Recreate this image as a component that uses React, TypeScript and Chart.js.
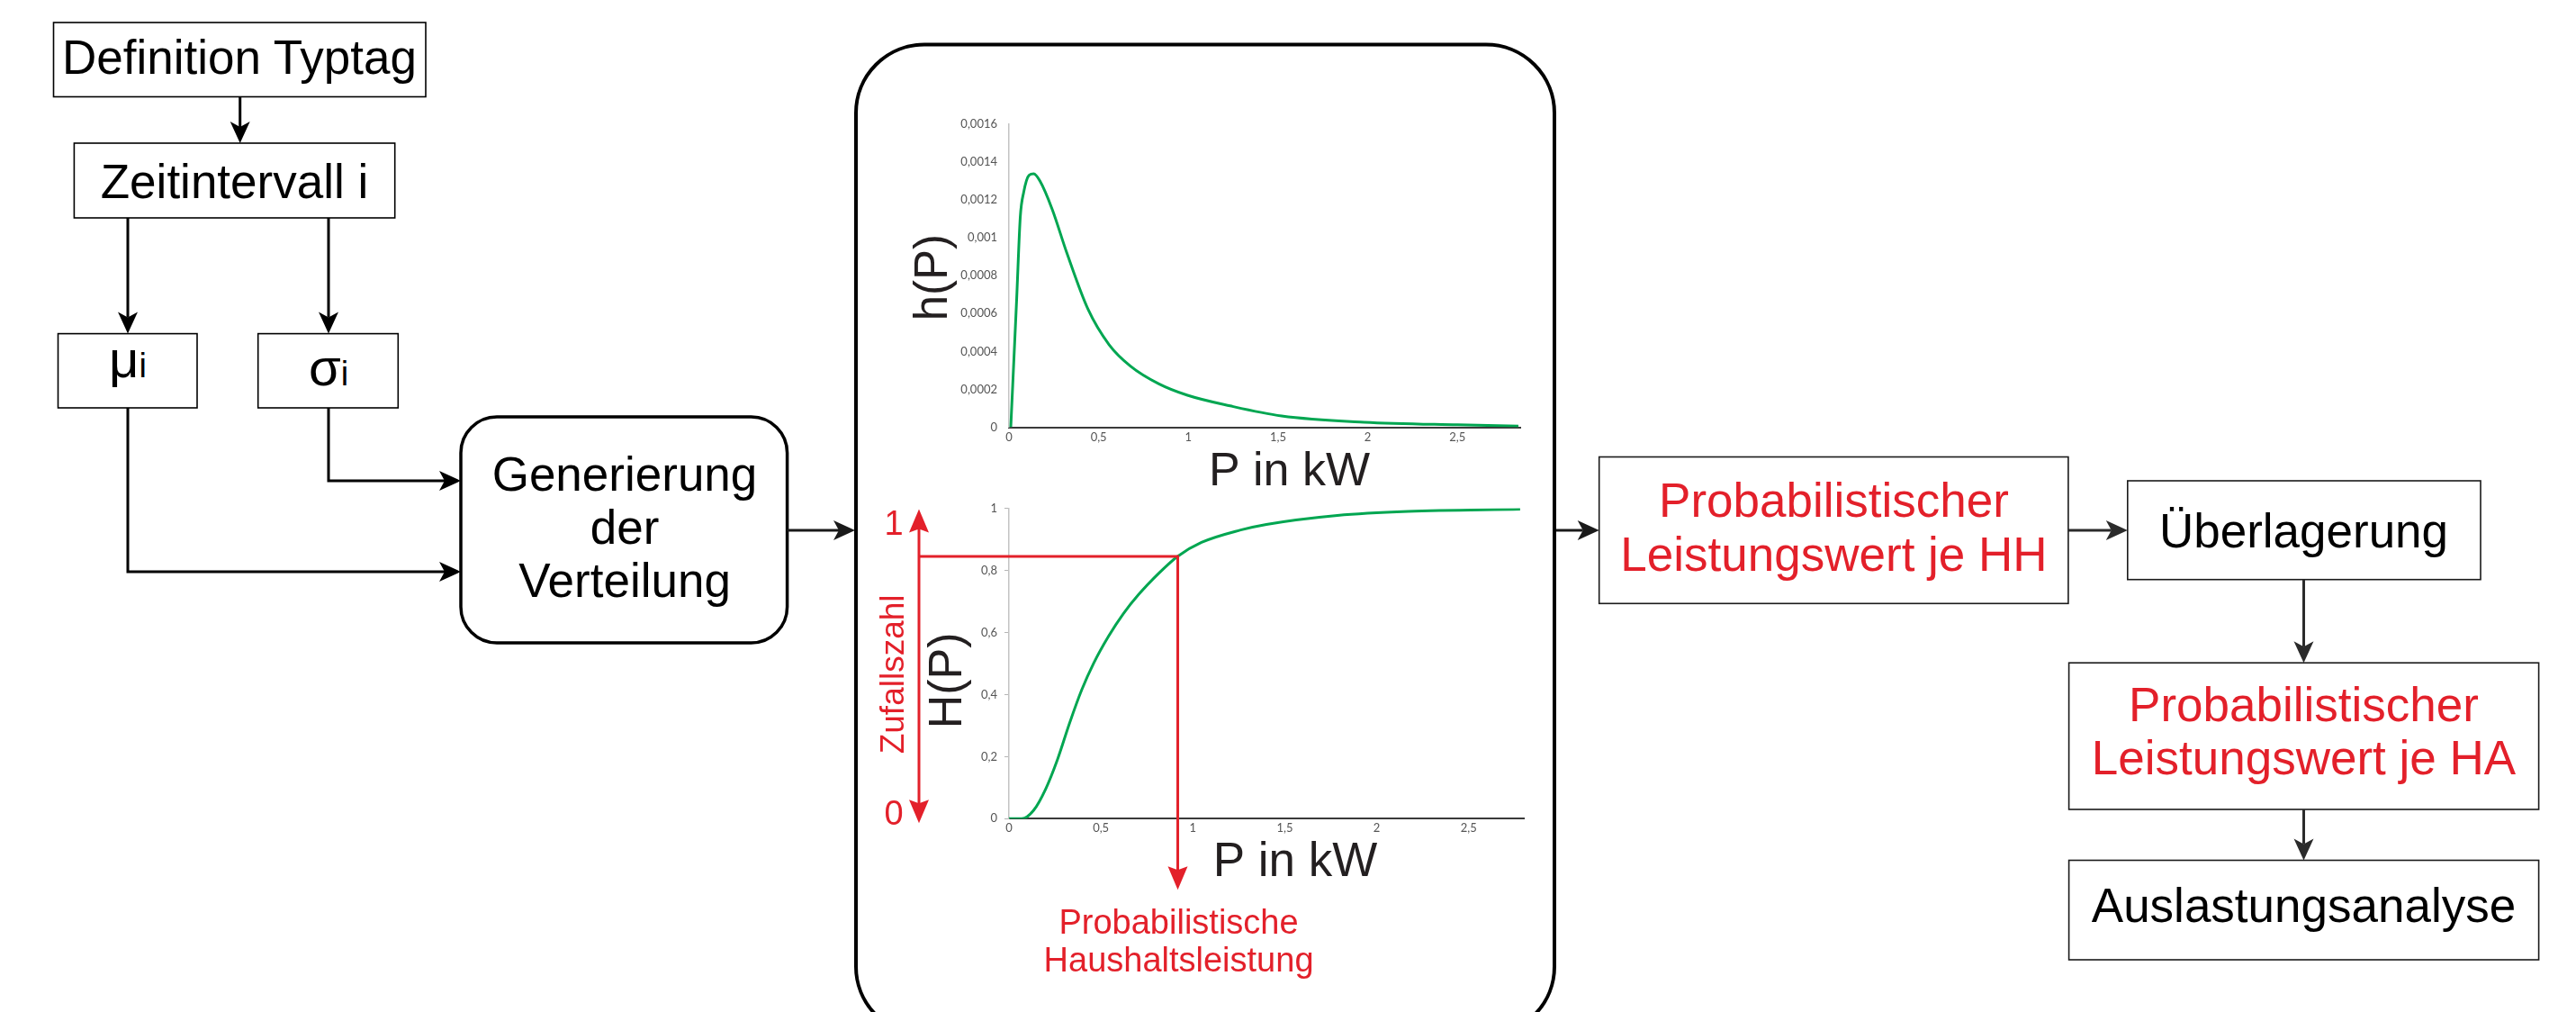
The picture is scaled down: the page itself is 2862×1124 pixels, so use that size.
import React, { useEffect, useRef } from 'react';
import { Chart, registerables } from 'chart.js';

Chart.register(...registerables);

// ---------- data ----------
// Dichtefunktion h(P)
const PDF_P = [0.01, 0.043, 0.063, 0.082, 0.112, 0.138, 0.172, 0.241, 0.321, 0.44, 0.558, 0.677, 0.836, 0.995, 1.233, 1.52, 1.98, 2.5, 2.84];
const PDF_H = [0, 0.00068, 0.00111, 0.00124, 0.00133, 0.001337, 0.0013, 0.00115, 0.000924, 0.000624, 0.000436, 0.000323, 0.000229, 0.000169, 0.000113, 0.00006, 0.000027, 0.000013, 0.000007];
// Verteilungsfunktion H(P)
const CDF_P = [0, 0.069, 0.134, 0.199, 0.264, 0.329, 0.395, 0.46, 0.542, 0.623, 0.705, 0.819, 0.917, 1.047, 1.26, 1.4, 1.786, 2.17, 2.78];
const CDF_H = [0, 0, 0.027, 0.095, 0.191, 0.307, 0.414, 0.5, 0.588, 0.661, 0.722, 0.793, 0.845, 0.89, 0.93, 0.948, 0.977, 0.99, 0.997];

const X_TICKS = [0, 0.5, 1, 1.5, 2, 2.5];
const X_TICK_LABELS = ['0', '0,5', '1', '1,5', '2', '2,5'];
const PDF_Y_TICKS = [0, 0.0002, 0.0004, 0.0006, 0.0008, 0.001, 0.0012, 0.0014, 0.0016];
const PDF_Y_TICK_LABELS = ['0', '0,0002', '0,0004', '0,0006', '0,0008', '0,001', '0,0012', '0,0014', '0,0016'];
const CDF_Y_TICKS = [0, 0.2, 0.4, 0.6, 0.8, 1];
const CDF_Y_TICK_LABELS = ['0', '0,2', '0,4', '0,6', '0,8', '1'];

const SAMPLE_H = 0.845; // Zufallszahl
const SAMPLE_P = 0.918; // Probabilistische Haushaltsleistung

// ---------- styles ----------
const FONT = '"Liberation Sans", Arial, Helvetica, sans-serif';
const RED = '#e3202a';
const GREEN = '#00a651';
const DARK = '#231f20';
const TICK_FONT = { family: 'Lato, "Liberation Sans", sans-serif', size: 13 };
const TICK_COLOR = '#555555';

type Pt = [number, number];

function arrowGeom(pts: Pt[], len = 24, hw = 11, notch = 0.75) {
  const [x1, y1] = pts[pts.length - 2];
  const [x2, y2] = pts[pts.length - 1];
  const dx = x2 - x1, dy = y2 - y1;
  const L = Math.hypot(dx, dy);
  const ux = dx / L, uy = dy / L;
  const nx = -uy, ny = ux;
  const bx = x2 - ux * len, by = y2 - uy * len;
  const mx = x2 - ux * len * notch, my = y2 - uy * len * notch;
  const line = pts.slice(0, -1).concat([[mx, my]]).map((p) => p.join(',')).join(' ');
  const head = `${x2},${y2} ${bx + nx * hw},${by + ny * hw} ${mx},${my} ${bx - nx * hw},${by - ny * hw}`;
  return { line, head };
}

function Arrow({ pts, color = '#000', width = 3 }: { pts: Pt[]; color?: string; width?: number }) {
  const { line, head } = arrowGeom(pts);
  return (
    <g>
      <polyline points={line} fill="none" stroke={color} strokeWidth={width} strokeLinejoin="miter" />
      <polygon points={head} fill={color} />
    </g>
  );
}

function drawHead(ctx: CanvasRenderingContext2D, x: number, y: number, dir: number, len = 26, hw = 11) {
  // dir: 1 = pointing down, -1 = pointing up
  ctx.beginPath();
  ctx.moveTo(x, y);
  ctx.lineTo(x - hw, y - dir * len);
  ctx.lineTo(x, y - dir * len * 0.85);
  ctx.lineTo(x + hw, y - dir * len);
  ctx.closePath();
  ctx.fill();
}

function xScaleOpts(max: number) {
  return {
    type: 'linear' as const,
    min: 0,
    max,
    afterBuildTicks: (axis: any) => {
      axis.ticks = X_TICKS.map((v) => ({ value: v }));
    },
    afterFit: (s: any) => {
      s.height = 40;
    },
    grid: { display: true, drawOnChartArea: false, drawTicks: false },
    border: { display: true, color: '#3a3a3a', width: 2 },
    ticks: {
      padding: 3,
      autoSkip: false,
      maxRotation: 0,
      font: TICK_FONT,
      color: TICK_COLOR,
      callback: (_v: any, i: number) => X_TICK_LABELS[i],
    },
  };
}

export default function App() {
  const topRef = useRef<HTMLCanvasElement>(null);
  const botRef = useRef<HTMLCanvasElement>(null);

  useEffect(() => {
    const topTitles = {
      id: 'topTitles',
      afterDraw(chart: any) {
        const { ctx, chartArea: a } = chart;
        ctx.save();
        ctx.fillStyle = DARK;
        ctx.font = `52px ${FONT}`;
        ctx.textAlign = 'center';
        ctx.textBaseline = 'alphabetic';
        ctx.fillText('P in kW', a.left + 311.5, a.bottom + 64.4);
        ctx.translate(a.left - 83, (a.top + a.bottom) / 2 + 2);
        ctx.rotate(-Math.PI / 2);
        ctx.font = `51px ${FONT}`;
        ctx.textBaseline = 'middle';
        ctx.fillText('h(P)', 0, 0);
        ctx.restore();
      },
    };

    const botAnnot = {
      id: 'botAnnot',
      afterDraw(chart: any) {
        const { ctx, chartArea: a } = chart;
        const xs = chart.scales.x, ys = chart.scales.y;
        const xi = xs.getPixelForValue(SAMPLE_P);
        const yi = ys.getPixelForValue(SAMPLE_H);
        const y1 = ys.getPixelForValue(1);
        const y0 = ys.getPixelForValue(0);
        const ax = a.left - 100;
        ctx.save();
        // axis titles
        ctx.fillStyle = DARK;
        ctx.font = `53px ${FONT}`;
        ctx.textAlign = 'center';
        ctx.textBaseline = 'alphabetic';
        ctx.fillText('P in kW', a.left + 318, a.bottom + 64);
        ctx.save();
        ctx.translate(a.left - 67, (a.top + a.bottom) / 2 + 19);
        ctx.rotate(-Math.PI / 2);
        ctx.font = `52px ${FONT}`;
        ctx.textBaseline = 'middle';
        ctx.fillText('H(P)', 0, 0);
        ctx.restore();

        // red construction
        ctx.strokeStyle = RED;
        ctx.fillStyle = RED;
        ctx.lineWidth = 3;
        ctx.lineCap = 'butt';
        ctx.beginPath();
        ctx.moveTo(ax - 1.5, yi);
        ctx.lineTo(xi, yi);
        ctx.moveTo(xi, yi - 1.5);
        ctx.lineTo(xi, y0 + 79 - 20);
        ctx.moveTo(ax, y1 + 1 + 20);
        ctx.lineTo(ax, y0 + 5 - 20);
        ctx.stroke();
        drawHead(ctx, xi, y0 + 79, 1);
        drawHead(ctx, ax, y1 + 1, -1);
        drawHead(ctx, ax, y0 + 5, 1);

        ctx.font = `38px ${FONT}`;
        ctx.textAlign = 'center';
        ctx.textBaseline = 'alphabetic';
        ctx.fillText('1', ax - 28, y1 + 29);
        ctx.fillText('0', ax - 28, y0 + 6.7);
        ctx.fillText('Probabilistische', xi + 1, y0 + 128);
        ctx.fillText('Haushaltsleistung', xi + 1, y0 + 169.6);

        ctx.save();
        ctx.translate(ax - 27.5, (y1 + y0) / 2 + 12);
        ctx.rotate(-Math.PI / 2);
        ctx.font = `37px ${FONT}`;
        ctx.textBaseline = 'middle';
        ctx.fillText('Zufallszahl', 0, 0);
        ctx.restore();
        ctx.restore();
      },
    };

    const c1 = new Chart(topRef.current as HTMLCanvasElement, {
      type: 'line',
      data: {
        datasets: [
          {
            data: PDF_P.map((p, i) => ({ x: p, y: PDF_H[i] })),
            borderColor: GREEN,
            borderWidth: 3,
            pointRadius: 0,
            cubicInterpolationMode: 'monotone',
            fill: false,
          },
        ],
      },
      options: {
        animation: false,
        responsive: false,
        layout: { padding: { left: 10, top: 27.7, right: 31, bottom: 45.4 } },
        plugins: { legend: { display: false }, tooltip: { enabled: false } },
        scales: {
          x: xScaleOpts(2.85) as any,
          y: {
            min: 0,
            max: 0.0016,
            afterBuildTicks: (axis: any) => {
              axis.ticks = PDF_Y_TICKS.map((v) => ({ value: v }));
            },
            afterFit: (s: any) => {
              s.width = 111;
            },
            grid: { display: true, drawOnChartArea: false, drawTicks: false },
            border: { display: true, color: '#c4c4c4', width: 1.5 },
            ticks: {
              padding: 13,
              autoSkip: false,
              font: TICK_FONT,
              color: TICK_COLOR,
              callback: (_v: any, i: number) => PDF_Y_TICK_LABELS[i],
            },
          },
        },
      },
      plugins: [topTitles],
    } as any);

    const c2 = new Chart(botRef.current as HTMLCanvasElement, {
      type: 'line',
      data: {
        datasets: [
          {
            data: CDF_P.map((p, i) => ({ x: p, y: CDF_H[i] })),
            borderColor: GREEN,
            borderWidth: 3,
            pointRadius: 0,
            cubicInterpolationMode: 'monotone',
            fill: false,
          },
        ],
      },
      options: {
        animation: false,
        responsive: false,
        layout: { padding: { left: 10, top: 24.5, right: 27, bottom: 150.7 } },
        plugins: { legend: { display: false }, tooltip: { enabled: false } },
        scales: {
          x: xScaleOpts(2.8) as any,
          y: {
            min: 0,
            max: 1,
            afterBuildTicks: (axis: any) => {
              axis.ticks = CDF_Y_TICKS.map((v) => ({ value: v }));
            },
            afterFit: (s: any) => {
              s.width = 151;
            },
            grid: { display: true, drawOnChartArea: false, drawTicks: true, tickLength: 5, color: '#b5b5b5' },
            border: { display: true, color: '#c4c4c4', width: 1.5 },
            ticks: {
              padding: 8,
              autoSkip: false,
              font: TICK_FONT,
              color: TICK_COLOR,
              callback: (_v: any, i: number) => CDF_Y_TICK_LABELS[i],
            },
          },
        },
      },
      plugins: [botAnnot],
    } as any);

    return () => {
      c1.destroy();
      c2.destroy();
    };
  }, []);

  const box = { fill: '#fff', stroke: '#000', strokeWidth: 1.6 };
  const rbox = { fill: '#fff', stroke: '#1a1a1a', strokeWidth: 1.6 };

  return (
    <div style={{ position: 'absolute', left: 0, top: 0, width: 2862, height: 1124, overflow: 'hidden', background: '#fff' }}>
      <svg width={2862} height={1124} style={{ position: 'absolute', left: 0, top: 0 }} fontFamily={FONT}>
        {/* left part */}
        <rect x={59.5} y={25} width={413.5} height={82.5} {...box} />
        <text x={266} y={82.4} fontSize={53} textAnchor="middle" fill="#000">Definition Typtag</text>
        <rect x={82.4} y={159} width={356.3} height={83} {...box} />
        <text x={260.5} y={220} fontSize={53} textAnchor="middle" fill="#000">Zeitintervall i</text>
        <rect x={64.5} y={370.6} width={154.5} height={82.4} {...box} />
        <text x={142} y={419.4} textAnchor="middle" fill="#000">
          <tspan fontSize={58}>μ</tspan>
          <tspan fontSize={38}>i</tspan>
        </text>
        <rect x={286.7} y={370.6} width={155.6} height={82.4} {...box} />
        <text x={365} y={428} textAnchor="middle" fill="#000">
          <tspan fontSize={58}>σ</tspan>
          <tspan fontSize={38}>i</tspan>
        </text>
        <rect x={512} y={463} width={362.6} height={251} rx={40} ry={40} fill="#fff" stroke="#000" strokeWidth={3.5} />
        <text fontSize={53} textAnchor="middle" fill="#000">
          <tspan x={694} y={544.8}>Generierung</tspan>
          <tspan x={694} y={603.6}>der</tspan>
          <tspan x={694} y={663}>Verteilung</tspan>
        </text>

        <Arrow pts={[[266.7, 107.5], [266.7, 159]]} />
        <Arrow pts={[[142, 242], [142, 370.6]]} />
        <Arrow pts={[[365, 242], [365, 370.6]]} />
        <Arrow pts={[[365, 453], [365, 534], [512, 534]]} />
        <Arrow pts={[[142, 453], [142, 635], [512, 635]]} />
        <Arrow pts={[[874.6, 589], [950, 589]]} color="#1a1a1a" />

        {/* middle container */}
        <rect x={951} y={49.5} width={776} height={1100} rx={76} ry={76} fill="none" stroke="#000" strokeWidth={4} />

        {/* right part */}
        <Arrow pts={[[1729, 589], [1776.7, 589]]} color="#1a1a1a" />
        <rect x={1776.7} y={507.5} width={521.2} height={162.8} {...rbox} />
        <text fontSize={53} textAnchor="middle" fill={RED}>
          <tspan x={2037.5} y={573.5}>Probabilistischer</tspan>
          <tspan x={2037.5} y={634.4}>Leistungswert je HH</tspan>
        </text>
        <Arrow pts={[[2298, 589], [2363.8, 589]]} color="#2b2b2b" />
        <rect x={2363.8} y={534} width={392.2} height={109.7} {...rbox} />
        <text x={2559.5} y={608} fontSize={53} textAnchor="middle" fill="#000">Überlagerung</text>
        <Arrow pts={[[2559.5, 643.7], [2559.5, 736.2]]} color="#2b2b2b" />
        <rect x={2298.6} y={736.2} width={522} height={162.8} {...rbox} />
        <text fontSize={53} textAnchor="middle" fill={RED}>
          <tspan x={2559.5} y={801.4}>Probabilistischer</tspan>
          <tspan x={2559.5} y={860.2}>Leistungswert je HA</tspan>
        </text>
        <Arrow pts={[[2559.5, 899], [2559.5, 955.5]]} color="#2b2b2b" />
        <rect x={2298.6} y={955.5} width={522} height={110.5} {...rbox} />
        <text x={2559.5} y={1023.7} fontSize={53} textAnchor="middle" fill="#000">Auslastungsanalyse</text>
      </svg>
      <canvas
        ref={topRef}
        width={720}
        height={450}
        style={{ position: 'absolute', left: 1000, top: 110, width: 720, height: 450 }}
      />
      <canvas
        ref={botRef}
        width={760}
        height={560}
        style={{ position: 'absolute', left: 960, top: 540, width: 760, height: 560 }}
      />
    </div>
  );
}
